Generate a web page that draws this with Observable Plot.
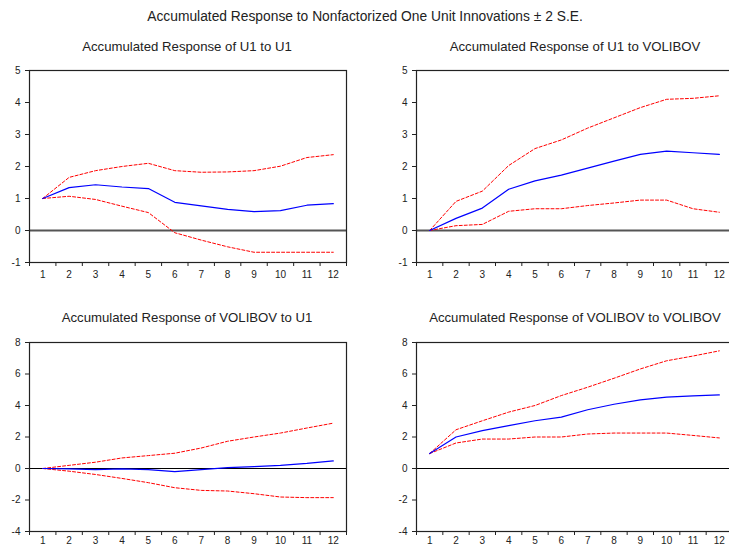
<!DOCTYPE html>
<html>
<head>
<meta charset="utf-8">
<script src="https://cdn.jsdelivr.net/npm/d3@7"></script>
<script src="https://cdn.jsdelivr.net/npm/@observablehq/plot@0.6"></script>
<style>
  html, body { margin: 0; padding: 0; background: #fff; }
  #wrap { position: relative; width: 729px; height: 548px; overflow: hidden; background: #fff;
          font-family: "Liberation Sans", Arial, sans-serif; color: #222; }
  .t { position: absolute; white-space: nowrap; transform: translateX(-50%); }
  .main { font-size: 13.8px; top: 9px; }
  .sub { font-size: 13.2px; }
  .panel { position: absolute; }
  .panel svg { max-width: none !important; display: block; }
</style>
</head>
<body>
<div id="wrap"></div>
<script>
// ---- data ----
const mainTitle = "Accumulated Response to Nonfactorized One Unit Innovations \u00b1 2 S.E.";
const panelTitles = [
  "Accumulated Response of U1 to U1",
  "Accumulated Response of U1 to VOLIBOV",
  "Accumulated Response of VOLIBOV to U1",
  "Accumulated Response of VOLIBOV to VOLIBOV"
];
const periods = [1, 2, 3, 4, 5, 6, 7, 8, 9, 10, 11, 12];
const periodBounds = [0.5, 1.5, 2.5, 3.5, 4.5, 5.5, 6.5, 7.5, 8.5, 9.5, 10.5, 11.5, 12.5];
const yTicksTop = [-1, 0, 1, 2, 3, 4, 5];
const yTicksBottom = [-4, -2, 0, 2, 4, 6, 8];

// U1 to U1
const u1u1Resp = [1.0, 1.34, 1.43, 1.36, 1.31, 0.88, 0.77, 0.66, 0.59, 0.62, 0.79, 0.84];
const u1u1Hi   = [1.0, 1.66, 1.87, 2.0, 2.1, 1.87, 1.82, 1.83, 1.87, 2.01, 2.28, 2.37];
const u1u1Lo   = [1.0, 1.07, 0.97, 0.76, 0.56, -0.07, -0.3, -0.51, -0.68, -0.68, -0.68, -0.68];
// U1 to VOLIBOV
const u1volResp = [0.0, 0.38, 0.70, 1.29, 1.55, 1.73, 1.95, 2.17, 2.38, 2.48, 2.43, 2.38];
const u1volHi   = [0.0, 0.91, 1.23, 2.03, 2.56, 2.83, 3.2, 3.52, 3.84, 4.1, 4.13, 4.21];
const u1volLo   = [0.0, 0.15, 0.19, 0.6, 0.68, 0.68, 0.78, 0.86, 0.95, 0.95, 0.68, 0.57];
// VOLIBOV to U1
const volu1Resp = [0.0, -0.03, -0.07, -0.03, -0.07, -0.2, -0.07, 0.05, 0.12, 0.2, 0.32, 0.48];
const volu1Hi   = [0.0, 0.2, 0.4, 0.67, 0.82, 0.97, 1.3, 1.73, 2.0, 2.25, 2.57, 2.88];
const volu1Lo   = [0.0, -0.17, -0.38, -0.63, -0.9, -1.22, -1.39, -1.43, -1.6, -1.81, -1.85, -1.85];
// VOLIBOV to VOLIBOV
const volvolResp = [0.95, 2.0, 2.4, 2.72, 3.03, 3.26, 3.73, 4.08, 4.36, 4.53, 4.61, 4.67];
const volvolHi   = [0.95, 2.46, 3.03, 3.58, 4.0, 4.63, 5.16, 5.73, 6.32, 6.84, 7.14, 7.47];
const volvolLo   = [0.95, 1.62, 1.87, 1.87, 2.0, 2.0, 2.19, 2.25, 2.25, 2.25, 2.1, 1.94];

// ---- drawing ----
const wrap = document.getElementById("wrap");
function addText(cls, txt, x, y) {
  const d = document.createElement("div");
  d.className = "t " + cls;
  d.textContent = txt;
  d.style.left = x + "px";
  if (y !== undefined) d.style.top = y + "px";
  wrap.appendChild(d);
}

function panel(opts) {
  const rows = periods.map((p, i) => ({p, resp: opts.resp[i], hi: opts.hi[i], lo: opts.lo[i]}));
  const chart = Plot.plot({
    width: opts.width, height: opts.height,
    marginLeft: opts.ml, marginRight: opts.mr, marginTop: opts.mt, marginBottom: opts.mb,
    x: {domain: [0.5, 12.5], label: null},
    y: {domain: opts.yDomain, label: null},
    style: {fontFamily: "'Liberation Sans', Arial, sans-serif", fontSize: "10px", color: "#222", background: "white", maxWidth: "none"},
    marks: [
      Plot.ruleY([0], {stroke: opts.zeroStroke, strokeWidth: opts.zeroWidth}),
      Plot.line(rows, {x: "p", y: "hi", stroke: "#ff0000", strokeWidth: 1, strokeDasharray: "3,2"}),
      Plot.line(rows, {x: "p", y: "lo", stroke: "#ff0000", strokeWidth: 1, strokeDasharray: "3,2"}),
      Plot.line(rows, {x: "p", y: "resp", stroke: "#0000ff", strokeWidth: 1.2}),
      Plot.frame({stroke: "#222", strokeWidth: 1.2}),
      Plot.axisX({ticks: periodBounds, tickSize: 4, tickFormat: () => "", label: null, stroke: "#222"}),
      Plot.axisX({ticks: periods, tickSize: 0, tickPadding: opts.xPad, tickFormat: d => String(d), label: null}),
      Plot.axisY({ticks: opts.yTicks, tickSize: 4, tickPadding: 5, tickFormat: d => String(d), label: null, stroke: "#222"})
    ]
  });
  const holder = document.createElement("div");
  holder.className = "panel";
  holder.style.left = opts.left + "px";
  holder.style.top = opts.top + "px";
  holder.style.width = opts.width + "px";
  holder.style.height = opts.height + "px";
  holder.appendChild(chart);
  wrap.appendChild(holder);
}

addText("main", mainTitle, 365);
addText("sub", panelTitles[0], 187, 39);
addText("sub", panelTitles[1], 575, 39);
addText("sub", panelTitles[2], 187, 310);
addText("sub", panelTitles[3], 575, 310);

panel({left: 0, top: 60, width: 364, height: 222, ml: 29, mr: 18, mt: 10, mb: 20, xPad: 8,
  yDomain: [-1, 5], yTicks: yTicksTop, zeroStroke: "#555", zeroWidth: 2,
  resp: u1u1Resp, hi: u1u1Hi, lo: u1u1Lo});
panel({left: 364, top: 60, width: 370, height: 222, ml: 52, mr: 2, mt: 10, mb: 20, xPad: 8,
  yDomain: [-1, 5], yTicks: yTicksTop, zeroStroke: "#555", zeroWidth: 2,
  resp: u1volResp, hi: u1volHi, lo: u1volLo});
panel({left: 0, top: 332, width: 364, height: 216, ml: 29, mr: 18, mt: 10, mb: 17, xPad: 5,
  yDomain: [-4, 8], yTicks: yTicksBottom, zeroStroke: "#000", zeroWidth: 1,
  resp: volu1Resp, hi: volu1Hi, lo: volu1Lo});
panel({left: 364, top: 332, width: 370, height: 216, ml: 52, mr: 2, mt: 10, mb: 17, xPad: 5,
  yDomain: [-4, 8], yTicks: yTicksBottom, zeroStroke: "#000", zeroWidth: 1,
  resp: volvolResp, hi: volvolHi, lo: volvolLo});
</script>
</body>
</html>
